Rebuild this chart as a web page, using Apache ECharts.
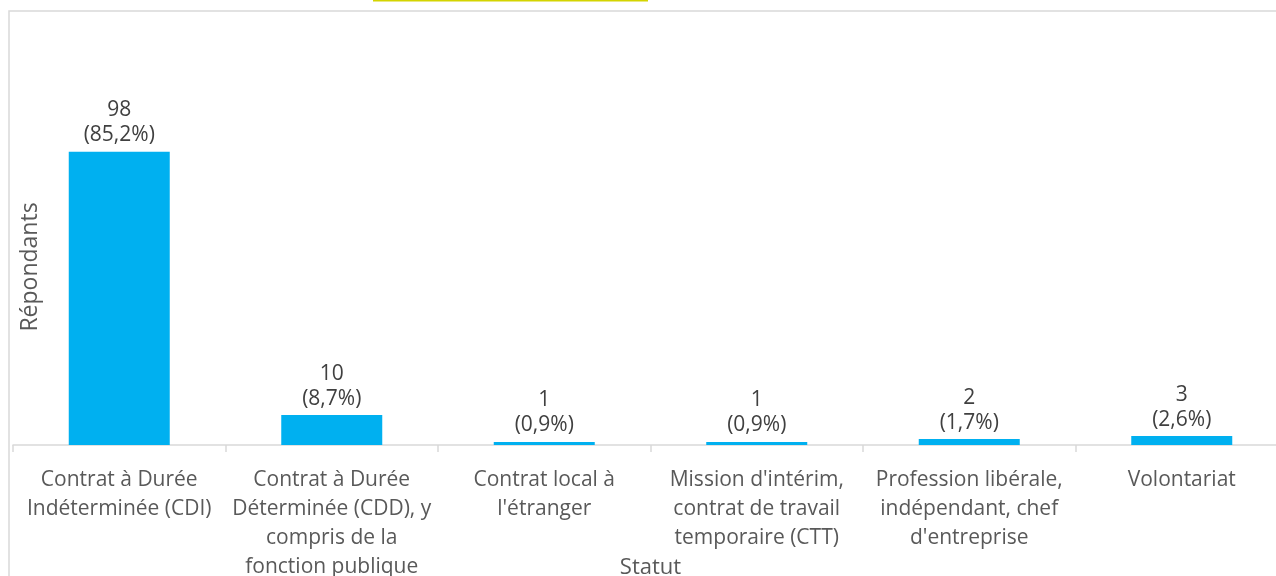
<!DOCTYPE html>
<html><head><meta charset="utf-8">
<script src="https://cdn.jsdelivr.net/npm/echarts@6/dist/echarts.min.js"></script>
<style>html,body{margin:0;padding:0;background:#fff;overflow:hidden}#c{width:1276px;height:576px}</style>
</head><body><div id="c"></div>
<script>
var categories = ["Contrat à Durée\nIndéterminée (CDI)", "Contrat à Durée\nDéterminée (CDD), y\ncompris de la\nfonction publique", "Contrat local à\nl'étranger", "Mission d'intérim,\ncontrat de travail\ntemporaire (CTT)", "Profession libérale,\nindépendant, chef\nd'entreprise", "Volontariat"];
var counts = [98, 10, 1, 1, 2, 3];
var percents = ["85,2", "8,7", "0,9", "0,9", "1,7", "2,6"];
var xTitle = "Statut";
var yTitle = "Répondants";
var FONT = "Open Sans";
var chart = echarts.init(document.getElementById('c'));
chart.setOption({
  animation: false,
  textStyle: {fontFamily: FONT},
  grid: {left: 13, top: 86, width: 1275, height: 359, containLabel: false, outerBoundsMode: 'none'},
  xAxis: {
    type: 'category', data: categories,
    name: xTitle, nameLocation: 'middle', nameGap: 112, nameMoveOverlap: false,
    nameTextStyle: {color: '#595959', fontSize: 22, fontFamily: FONT},
    axisLine: {lineStyle: {color: '#d9d9d9', width: 1.5}},
    axisTick: {show: true, length: 7, lineStyle: {color: '#d9d9d9', width: 1.5}},
    axisLabel: {color: '#595959', fontSize: 21, lineHeight: 29, margin: 21, interval: 0, fontFamily: FONT}
  },
  yAxis: {type: 'value', min: 0, max: 120, show: false, splitLine: {show: false}},
  series: [{
    type: 'bar', data: counts, barWidth: 101,
    itemStyle: {color: '#00b0f0'},
    label: {show: true, position: 'top', distance: 4, color: '#404040', fontSize: 21, lineHeight: 25, fontFamily: FONT,
      formatter: function (p) { return p.value + '\n(' + percents[p.dataIndex] + '%)'; }}
  }],
  graphic: [
    {type: 'rect', shape: {x: 9, y: 11, width: 1300, height: 600}, style: {fill: 'none', stroke: '#d9d9d9', lineWidth: 1.5}, z: -1},
    {type: 'rect', shape: {x: 373, y: 0, width: 275, height: 1.5}, style: {fill: '#d4d400'}},
    {type: 'text', x: 30, y: 267, rotation: Math.PI / 2, style: {text: yTitle, fill: '#595959', font: '23px "' + FONT + '"', textAlign: 'center', textVerticalAlign: 'middle'}}
  ]
});
</script></body></html>
